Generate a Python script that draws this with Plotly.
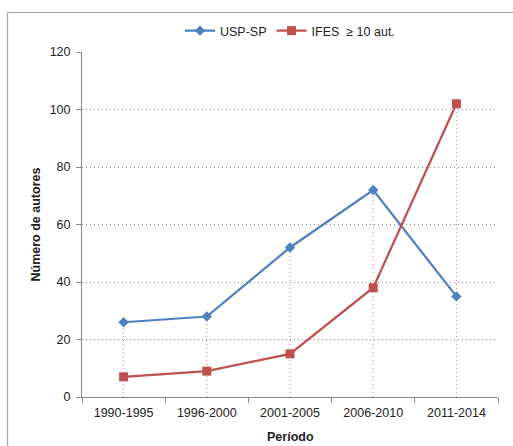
import plotly.graph_objects as go

periodos = ["1990-1995", "1996-2000", "2001-2005", "2006-2010", "2011-2014"]
usp_sp = [26, 28, 52, 72, 35]
ifes = [7, 9, 15, 38, 102]

L, R, T, B = 82, 15, 52, 49
W, H = 513, 446
pw, ph = W - L - R, H - T - B

# drop lines from highest point of each category down to axis
dx, dy = [], []
for i, p in enumerate(periodos):
    dx += [p, p, None]
    dy += [0, max(usp_sp[i], ifes[i]), None]

fig = go.Figure()
fig.add_trace(go.Scatter(x=dx, y=dy, mode="lines", showlegend=False, hoverinfo="skip",
                         line=dict(color="rgba(192,80,77,0.75)", width=1, dash="1px,3px")))
fig.add_trace(go.Scatter(x=periodos, y=usp_sp, mode="lines+markers", name="USP-SP",
                         line=dict(color="#4F81BD", width=2.25),
                         marker=dict(symbol="diamond", size=8, color="#4F81BD")))
fig.add_trace(go.Scatter(x=periodos, y=ifes, mode="lines+markers", name="IFES  ≥ 10 aut.",
                         line=dict(color="#C0504D", width=2.25),
                         marker=dict(symbol="square", size=9, color="#C0504D")))

def px2x(p):
    return (p - L) / pw

def py2y(p):
    return (H - B - p) / ph

fig.add_shape(type="line", xref="paper", yref="paper",
              x0=px2x(7.5), x1=px2x(530), y0=py2y(12.5), y1=py2y(12.5),
              line=dict(color="#A6A6A6", width=1.2))
fig.add_shape(type="line", xref="paper", yref="paper",
              x0=px2x(7.5), x1=px2x(7.5), y0=py2y(12.5), y1=py2y(470),
              line=dict(color="#A6A6A6", width=1.2))

fig.add_annotation(text="<b>Período</b>", xref="paper", yref="paper",
                   x=0.5, y=py2y(437), xanchor="center", yanchor="middle",
                   showarrow=False, font=dict(size=12.5))
fig.add_annotation(text="<b>Número de autores</b>", xref="paper", yref="paper",
                   x=px2x(35), y=0.5, xanchor="center", yanchor="middle", textangle=-90,
                   showarrow=False, font=dict(size=12.5))

fig.update_layout(
    width=W, height=H,
    margin=dict(l=L, r=R, t=T, b=B),
    paper_bgcolor="white", plot_bgcolor="white",
    font=dict(family="Liberation Sans, Arial, sans-serif", size=12.5, color="#222"),
    legend=dict(orientation="h", x=0.5, xanchor="center", y=py2y(31), yanchor="middle",
                font=dict(size=12.5), itemwidth=30, tracegroupgap=0),
    xaxis=dict(
        type="category", range=[-0.5, 4.5], tickson="boundaries", ticks="outside",
        ticklen=5, tickcolor="#898989", showline=True, linecolor="#898989", linewidth=1,
        showgrid=False, zeroline=False, ticklabelstandoff=4, automargin=False,
    ),
    yaxis=dict(
        range=[0, 120], dtick=20, ticks="outside", ticklen=5, tickcolor="#898989",
        showline=True, linecolor="#898989", linewidth=1, ticklabelstandoff=3,
        showgrid=True, gridcolor="#8C8C8C", griddash="1px,3px", gridwidth=1, zeroline=False,
        automargin=False,
    ),
)

fig.write_html("out.html")
